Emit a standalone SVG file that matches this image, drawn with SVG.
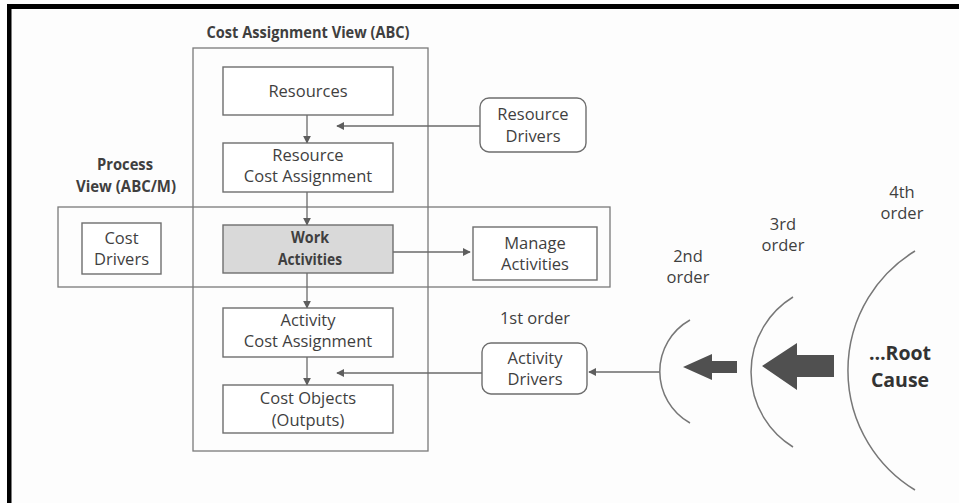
<svg xmlns="http://www.w3.org/2000/svg" width="959" height="503" viewBox="0 0 959 503">
  <style>
    text { font-family: "Open Sans", "Liberation Sans", sans-serif; fill: #3f3f3f; text-anchor: middle; }
    .lbl { font-size: 16.5px; }
    .bold { font-weight: bold; font-size: 16px; }
    .root { font-weight: bold; font-size: 19.5px; fill: #333; }
    .box { fill: #ffffff; stroke: #6e6e6e; stroke-width: 1.4; }
    .shaded { fill: #d9d9d9; stroke: #6e6e6e; stroke-width: 1.4; }
    .frame { fill: none; stroke: #7a7a7a; stroke-width: 1.3; }
    .drv { fill: #ffffff; stroke: #6e6e6e; stroke-width: 1.4; }
    .conn { fill: none; stroke: #6a6a6a; stroke-width: 1.3; }
    .arc { fill: none; stroke: #777; stroke-width: 1.5; }
    .block { fill: #505050; }
  </style>
  <defs>
    <marker id="tri" viewBox="0 0 10 10" refX="9" refY="5" markerWidth="8" markerHeight="8" markerUnits="userSpaceOnUse" orient="auto">
      <path d="M0,0 L10,5 L0,10 z" fill="#5e5e5e"/>
    </marker>
  </defs>

  <!-- page -->
  <rect x="0" y="0" width="959" height="503" fill="#fdfdfd"/>
  <rect x="7" y="4" width="952" height="5" fill="#000"/>
  <rect x="7" y="4" width="4.5" height="499" fill="#000"/>

  <!-- view frames -->
  <g id="cost-assignment-view">
    <rect class="frame" x="193" y="48" width="235" height="403"/>
    <text class="bold" x="308" y="38" textLength="203" lengthAdjust="spacingAndGlyphs">Cost Assignment View (ABC)</text>
  </g>
  <g id="process-view">
    <rect class="frame" x="58" y="207" width="552" height="80"/>
    <text class="bold" x="125" y="170" textLength="56" lengthAdjust="spacingAndGlyphs">Process</text>
    <text class="bold" x="126" y="192" textLength="100" lengthAdjust="spacingAndGlyphs">View (ABC/M)</text>
  </g>

  <!-- connectors -->
  <g id="connectors">
    <line class="conn" x1="307" y1="115" x2="307" y2="143" marker-end="url(#tri)"/>
    <line class="conn" x1="307" y1="192" x2="307" y2="225" marker-end="url(#tri)"/>
    <line class="conn" x1="307" y1="273" x2="307" y2="308" marker-end="url(#tri)"/>
    <line class="conn" x1="307" y1="357" x2="307" y2="385" marker-end="url(#tri)"/>
    <line class="conn" x1="480" y1="126" x2="337" y2="126" marker-end="url(#tri)"/>
    <line class="conn" x1="482" y1="373" x2="337" y2="373" marker-end="url(#tri)"/>
    <line class="conn" x1="393" y1="252" x2="470" y2="252" marker-end="url(#tri)"/>
    <line class="conn" x1="660" y1="372" x2="589" y2="372" marker-end="url(#tri)"/>
  </g>

  <!-- nodes -->
  <g id="resources">
    <rect class="box" x="223" y="67" width="170" height="48"/>
    <text class="lbl" x="308" y="97">Resources</text>
  </g>
  <g id="resource-cost-assignment">
    <rect class="box" x="223" y="143" width="170" height="49"/>
    <text class="lbl" x="308" y="161">Resource</text>
    <text class="lbl" x="308" y="182">Cost Assignment</text>
  </g>
  <g id="cost-drivers">
    <rect class="box" x="82" y="223" width="79" height="51"/>
    <text class="lbl" x="121.5" y="244">Cost</text>
    <text class="lbl" x="121.5" y="265">Drivers</text>
  </g>
  <g id="work-activities">
    <rect class="shaded" x="223" y="225" width="170" height="48"/>
    <text class="bold" x="310" y="243" textLength="38" lengthAdjust="spacingAndGlyphs">Work</text>
    <text class="bold" x="310" y="265" textLength="64" lengthAdjust="spacingAndGlyphs">Activities</text>
  </g>
  <g id="manage-activities">
    <rect class="box" x="473" y="227" width="124" height="53"/>
    <text class="lbl" x="535" y="249">Manage</text>
    <text class="lbl" x="535" y="270">Activities</text>
  </g>
  <g id="activity-cost-assignment">
    <rect class="box" x="223" y="308" width="170" height="49"/>
    <text class="lbl" x="308" y="326">Activity</text>
    <text class="lbl" x="308" y="347">Cost Assignment</text>
  </g>
  <g id="cost-objects">
    <rect class="box" x="223" y="385" width="170" height="48"/>
    <text class="lbl" x="308" y="404">Cost Objects</text>
    <text class="lbl" x="308" y="426">(Outputs)</text>
  </g>
  <g id="resource-drivers">
    <rect class="drv" x="480" y="98" width="106" height="54" rx="9"/>
    <text class="lbl" x="533" y="120">Resource</text>
    <text class="lbl" x="533" y="142">Drivers</text>
  </g>
  <g id="activity-drivers">
    <rect class="drv" x="482" y="343" width="105" height="51" rx="9"/>
    <text class="lbl" x="535" y="364">Activity</text>
    <text class="lbl" x="535" y="385">Drivers</text>
  </g>

  <!-- cause orders -->
  <g id="first-order">
    <text class="lbl" x="535" y="324">1st order</text>
  </g>
  <g id="second-order">
    <path class="arc" d="M690,320 A59,59 0 0 0 690,423"/>
    <text class="lbl" x="688" y="262">2nd</text>
    <text class="lbl" x="688" y="283">order</text>
    <path class="block" d="M683,367 L712,354 L712,361 L737,361 L737,373 L712,373 L712,380 z"/>
  </g>
  <g id="third-order">
    <path class="arc" d="M793,297 A88,88 0 0 0 793,447"/>
    <text class="lbl" x="783" y="230">3rd</text>
    <text class="lbl" x="783" y="251">order</text>
    <path class="block" d="M762,366 L797,343 L797,355 L834,355 L834,377 L797,377 L797,390 z"/>
  </g>
  <g id="fourth-order">
    <path class="arc" d="M915,251 A140,140 0 0 0 915,490"/>
    <text class="lbl" x="902" y="198">4th</text>
    <text class="lbl" x="902" y="219">order</text>
  </g>
  <g id="root-cause">
    <text class="root" x="900" y="360">…Root</text>
    <text class="root" x="900" y="387">Cause</text>
  </g>
</svg>
